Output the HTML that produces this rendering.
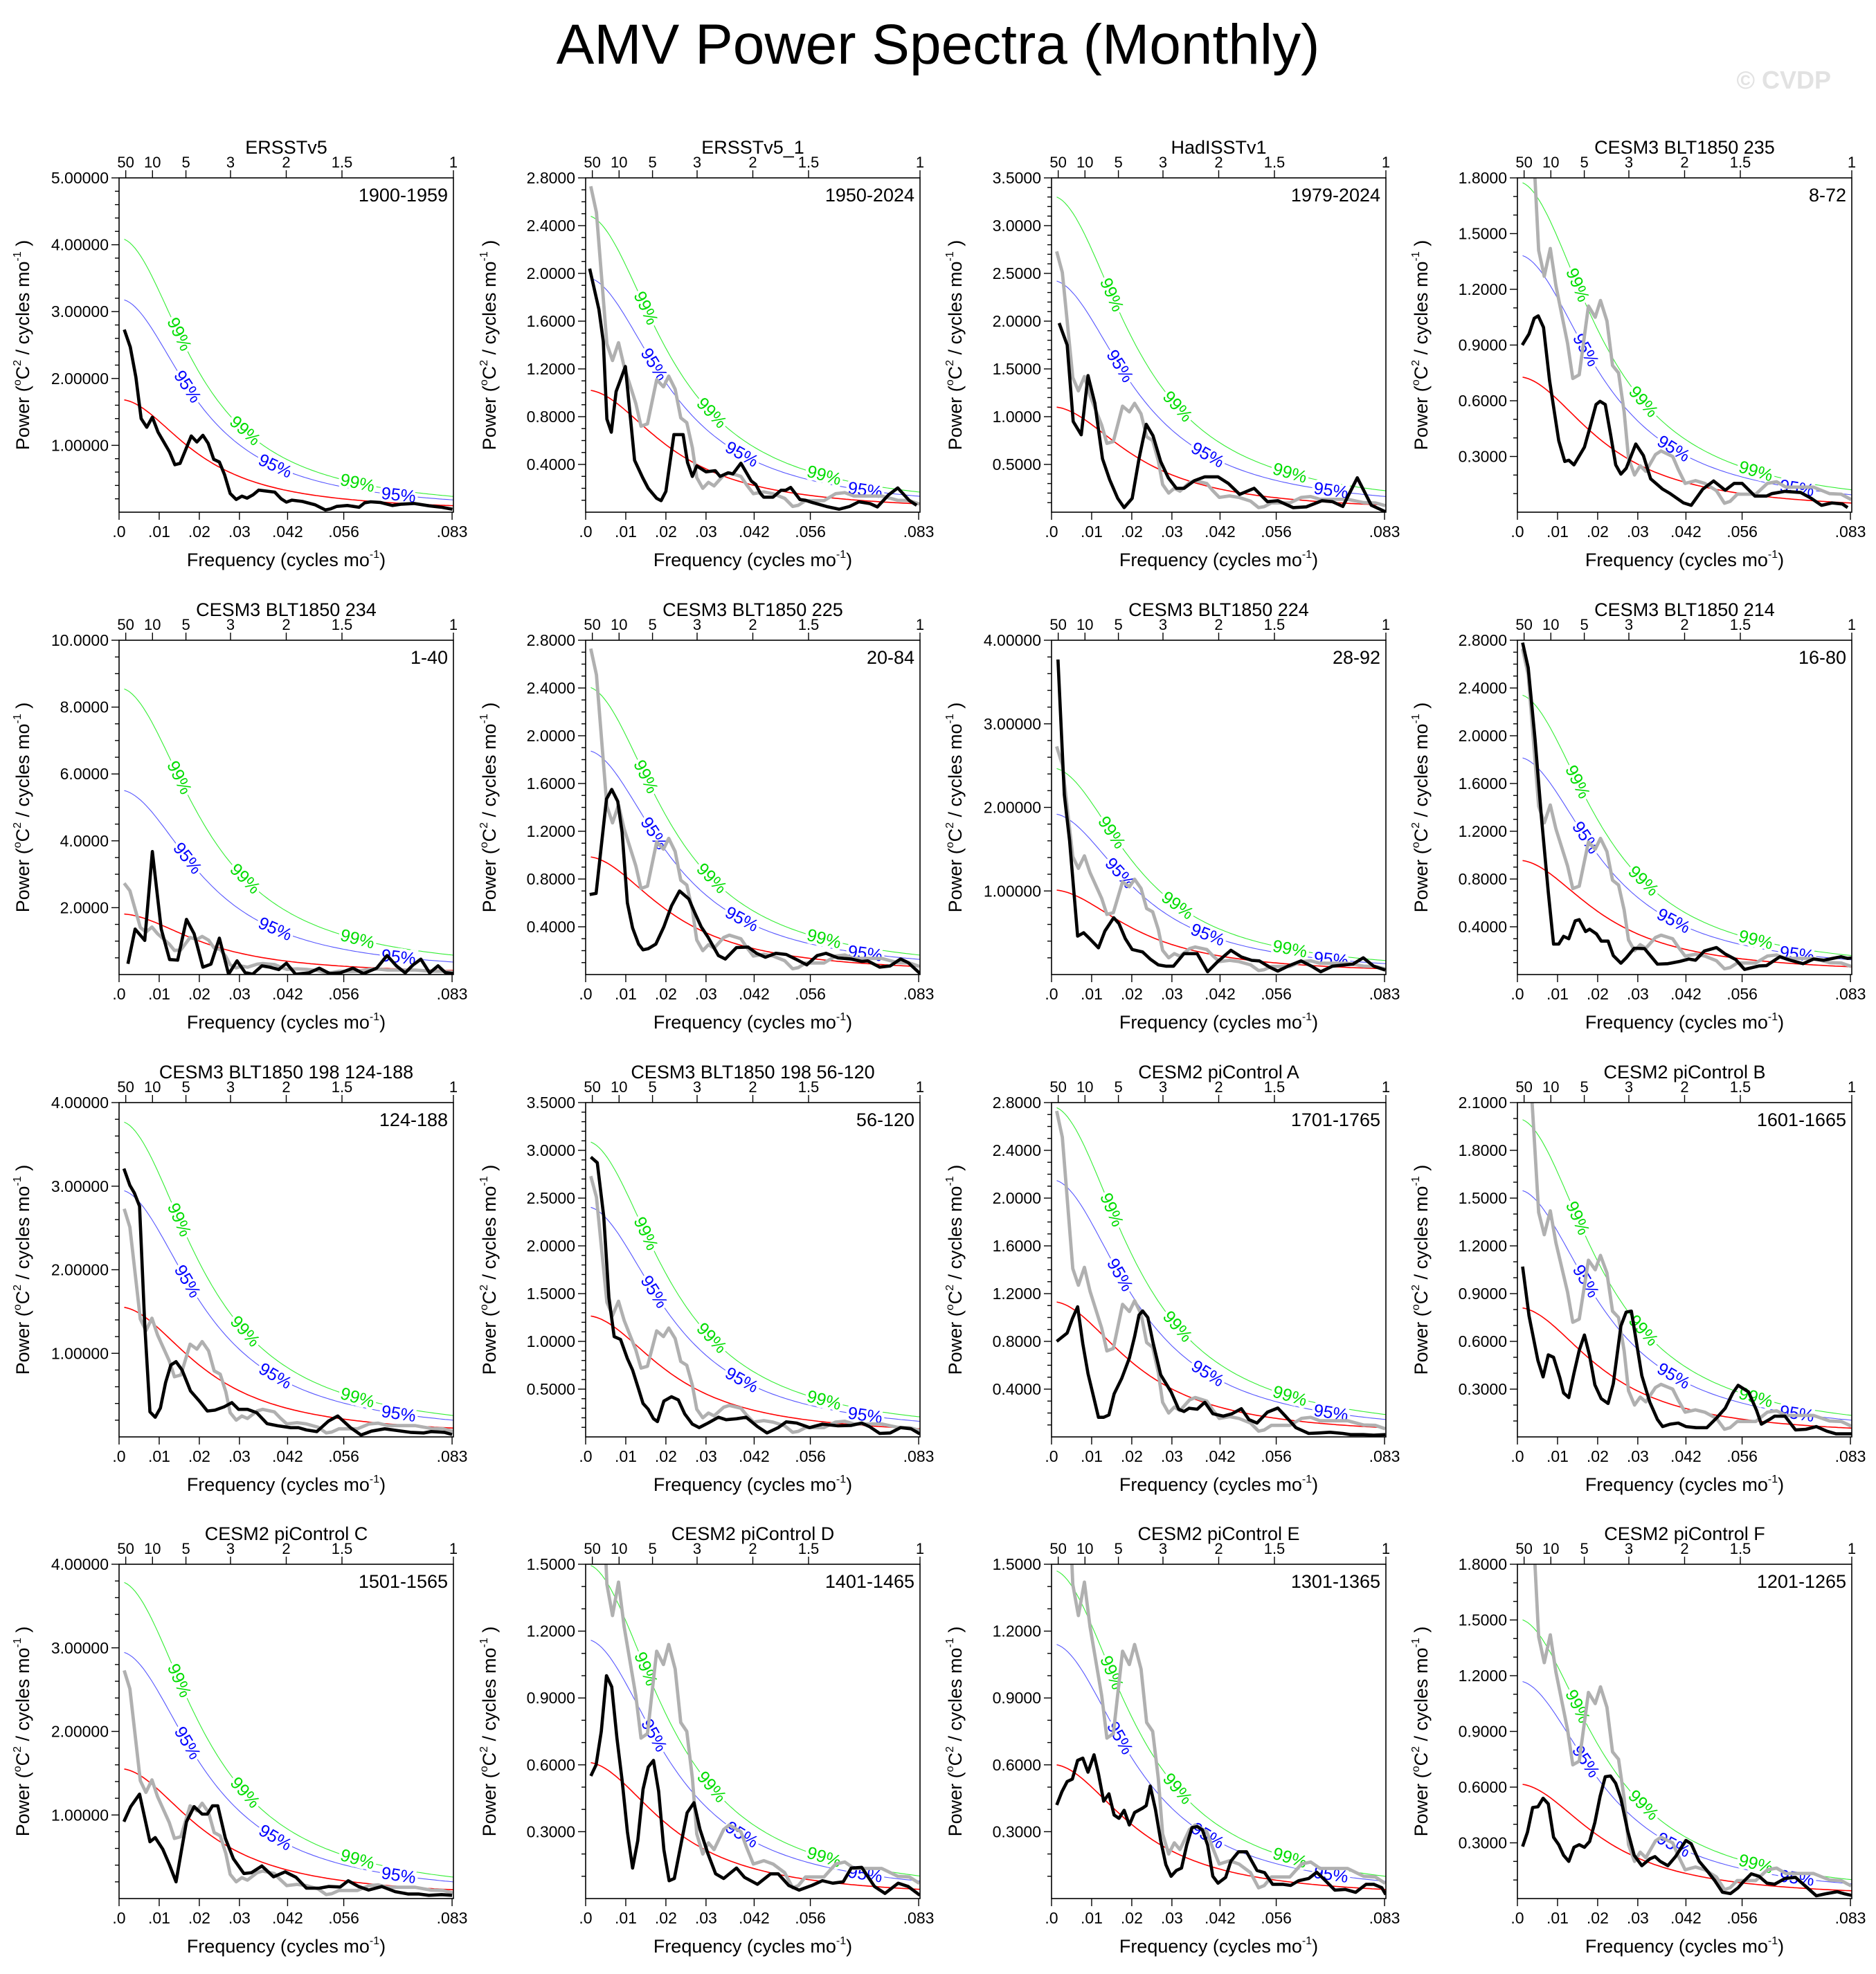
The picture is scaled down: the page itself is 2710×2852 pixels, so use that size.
<!DOCTYPE html>
<html>
<head>
<meta charset="utf-8">
<style>
html,body{margin:0;padding:0;background:#fff;}
svg{display:block;font-family:"Liberation Sans",sans-serif;}
</style>
</head>
<body>
<svg id="fig" width="2710" height="2852" viewBox="0 0 2710 2852" xmlns="http://www.w3.org/2000/svg">
<rect x="0" y="0" width="2710" height="2852" fill="#fff"/>
<text x="1355" y="92" text-anchor="middle" font-size="82" fill="#000">AMV Power Spectra (Monthly)</text>
<text x="2645" y="128" text-anchor="end" font-size="36" font-weight="bold" fill="#e2e2e2">© CVDP</text>
</svg>
<script>
// ---- chart data ----
const panelTitles = ["ERSSTv5","ERSSTv5_1","HadISSTv1","CESM3 BLT1850 235","CESM3 BLT1850 234","CESM3 BLT1850 225","CESM3 BLT1850 224","CESM3 BLT1850 214","CESM3 BLT1850 198 124-188","CESM3 BLT1850 198 56-120","CESM2 piControl A","CESM2 piControl B","CESM2 piControl C","CESM2 piControl D","CESM2 piControl E","CESM2 piControl F"];
const panelYears = ["1900-1959","1950-2024","1979-2024","8-72","1-40","20-84","28-92","16-80","124-188","56-120","1701-1765","1601-1665","1501-1565","1401-1465","1301-1365","1201-1265"];
const yMaxes = [5,2.8,3.5,1.8,10,2.8,4,2.8,4,3.5,2.8,2.1,4,1.5,1.5,1.8];
const ySteps = [1,0.4,0.5,0.3,2,0.4,1,0.4,1,0.5,0.4,0.3,1,0.3,0.3,0.3];
const yDecimals = [5,4,4,4,4,4,5,4,5,4,4,4,5,4,4,4];
const redStart = [1.68,1.02,1.10,0.727,1.81,0.985,1.01,0.955,1.55,1.265,1.13,0.81,1.55,0.61,0.60,0.615];
const redRho = [0.88,0.87,0.87,0.87,0.87,0.87,0.87,0.87,0.87,0.87,0.87,0.87,0.87,0.87,0.87,0.87];
const blueFactor = [1.89,1.92,2.2,1.9,3.04,1.9,1.9,1.9,1.9,1.9,1.9,1.91,1.9,1.9,1.9,1.9];
const greenFactor = [2.43,2.43,3.0,2.44,4.72,2.44,2.44,2.45,2.43,2.44,2.44,2.46,2.44,2.45,2.45,2.44];
const bottomTicks = [0,0.01,0.02,0.03,0.042,0.056,0.083];
const bottomTickLabels = [".0",".01",".02",".03",".042",".056",".083"];
const topPeriods = [50,10,5,3,2,1.5,1];
const topTickLabels = ["50","10","5","3","2","1.5","1"];

const graySpectrum = [[.00127,2.73],[.0027,2.51],[.0053,1.41],[.0067,1.27],[.0082,1.42],[.0096,1.22],[.0125,.91],[.0138,.72],[.0154,.74],[.0177,1.11],[.0194,1.05],[.0207,1.14],[.0223,1.03],[.0237,.79],[.0252,.75],[.0266,.54],[.0277,.29],[.0292,.20],[.0306,.25],[.0320,.22],[.0344,.31],[.0358,.33],[.0387,.30],[.0401,.23],[.0418,.155],[.0444,.17],[.0467,.155],[.0496,.116],[.0516,.048],[.0530,.058],[.0548,.097],[.0594,.097],[.0623,.155],[.0646,.164],[.0669,.135],[.0692,.135],[.0738,.135],[.0778,.10],[.0807,.097],[.0832,.068]];

const p1Black = [[.0013,2.73],[.0028,2.47],[.0042,2.02],[.0055,1.40],[.0069,1.27],[.0083,1.42],[.0097,1.20],[.0126,.90],[.0139,.71],[.0152,.73],[.0180,1.14],[.0194,1.05],[.0209,1.15],[.0222,1.03],[.0236,.79],[.0250,.75],[.0263,.56],[.0277,.28],[.0292,.19],[.0306,.24],[.0319,.21],[.0334,.26],[.0348,.33],[.0388,.30],[.0404,.20],[.0417,.15],[.0431,.18],[.0457,.16],[.0489,.11],[.0514,.034],[.0527,.05],[.0542,.086],[.0569,.10],[.0598,.073],[.0612,.14],[.0627,.155],[.0651,.146],[.0681,.10],[.0704,.12],[.0735,.13],[.0773,.095],[.0804,.073],[.0831,.043]];
const p2Black = [[.001,2.04],[.0033,1.70],[.0044,1.43],[.0053,.78],[.0064,.67],[.0076,1.01],[.0099,1.22],[.0122,.435],[.0142,.29],[.0156,.20],[.0177,.116],[.0188,.097],[.0200,.174],[.0220,.65],[.0243,.65],[.0254,.415],[.0266,.30],[.0277,.387],[.0300,.338],[.0323,.348],[.0335,.30],[.0355,.33],[.0367,.32],[.0387,.41],[.0413,.26],[.0424,.232],[.0436,.155],[.0444,.126],[.0467,.126],[.0487,.184],[.0499,.184],[.0511,.207],[.0534,.106],[.0548,.10],[.0565,.081],[.0600,.048],[.0632,.025],[.0658,.048],[.0681,.087],[.0709,.072],[.0727,.044],[.0755,.145],[.0778,.203],[.0807,.097],[.0825,.058]];
const p3Black = [[.0019,1.98],[.0039,1.75],[.0054,.95],[.0074,.81],[.0091,1.43],[.0108,1.14],[.0127,.56],[.0145,.34],[.0165,.145],[.0181,.048],[.0201,.145],[.0218,.56],[.0236,.92],[.0253,.80],[.0272,.53],[.0291,.36],[.0311,.25],[.0330,.25],[.0356,.33],[.0382,.37],[.0415,.37],[.0441,.30],[.0469,.186],[.0505,.25],[.0538,.11],[.0564,.12],[.0602,.048],[.0635,.056],[.0674,.12],[.0700,.11],[.0726,.06],[.0762,.36],[.0797,.073],[.0832,.005]];
const p4Black = [[.0012,.90],[.0029,.96],[.0042,1.044],[.0052,1.057],[.0065,.995],[.0080,.71],[.0103,.385],[.0118,.273],[.0128,.28],[.0141,.255],[.0167,.35],[.0180,.45],[.0196,.58],[.0206,.597],[.0219,.58],[.0232,.42],[.0245,.255],[.0258,.205],[.0271,.236],[.0295,.367],[.0314,.305],[.0332,.18],[.0362,.124],[.0381,.10],[.0414,.05],[.0433,.037],[.0462,.124],[.0489,.168],[.0518,.118],[.0540,.155],[.0560,.155],[.0592,.087],[.0621,.087],[.0634,.10],[.0667,.112],[.0706,.106],[.0732,.075],[.0758,.037],[.0784,.05],[.0810,.044],[.0823,.025]];
const p5Black = [[.0022,.32],[.0040,1.36],[.0064,1.02],[.0083,3.68],[.0105,1.36],[.0126,.45],[.0146,.43],[.0168,1.65],[.0187,1.22],[.0209,.22],[.0229,.31],[.0250,1.09],[.0273,.01],[.0294,.41],[.0314,.06],[.0333,.01],[.0356,.26],[.0376,.22],[.0398,.15],[.0417,.34],[.0440,.01],[.0473,.05],[.0499,.19],[.0525,.03],[.0551,.05],[.0583,.19],[.0609,.03],[.0642,.19],[.0668,.57],[.0691,.26],[.0713,.05],[.0733,.29],[.0752,.46],[.0774,.05],[.0795,.26],[.0813,.06],[.0833,.03]];
const p6Black = [[.0010,.67],[.0026,.68],[.0052,1.47],[.0065,1.55],[.0080,1.45],[.0091,1.19],[.0104,.60],[.0117,.39],[.0132,.255],[.0143,.207],[.0156,.217],[.0175,.255],[.0195,.40],[.0214,.575],[.0234,.70],[.0257,.633],[.0272,.517],[.0288,.40],[.0305,.313],[.0331,.159],[.0348,.13],[.0376,.226],[.0405,.23],[.0426,.178],[.0448,.145],[.0474,.178],[.0500,.168],[.0529,.12],[.0551,.081],[.0577,.159],[.0599,.178],[.0629,.139],[.0662,.13],[.0688,.11],[.0703,.114],[.0733,.062],[.0759,.072],[.0785,.13],[.0804,.10],[.0833,.01]];
const p7Black = [[.0016,3.77],[.0032,2.15],[.0045,1.60],[.0065,.46],[.0080,.50],[.0097,.42],[.0117,.32],[.0133,.52],[.0155,.68],[.0168,.61],[.0184,.43],[.0201,.30],[.0227,.27],[.0246,.185],[.0266,.116],[.0285,.10],[.0304,.10],[.0330,.25],[.0363,.25],[.0389,.033],[.0415,.158],[.0447,.29],[.0473,.21],[.0499,.17],[.0518,.163],[.0544,.088],[.0564,.041],[.0589,.10],[.0622,.163],[.0648,.10],[.0671,.033],[.0700,.10],[.0732,.116],[.0751,.124],[.0777,.20],[.0803,.10],[.0832,.053]];
const p8Black = [[.0013,2.78],[.0027,2.57],[.0044,1.97],[.0060,1.31],[.0077,.69],[.0090,.255],[.0103,.255],[.0115,.32],[.0128,.30],[.0144,.45],[.0154,.46],[.0170,.36],[.0180,.38],[.0197,.34],[.0209,.28],[.0226,.28],[.0239,.159],[.0258,.095],[.0271,.139],[.0291,.22],[.0317,.217],[.0349,.087],[.0375,.091],[.0405,.11],[.0427,.13],[.0444,.12],[.0466,.197],[.0496,.226],[.0518,.172],[.0544,.126],[.0566,.043],[.0602,.072],[.0621,.075],[.0654,.149],[.0680,.12],[.0712,.091],[.0738,.13],[.0764,.12],[.0784,.134],[.0807,.149],[.0823,.135],[.0833,.139]];
const p9Black = [[.0012,3.21],[.0027,3.01],[.0038,2.92],[.0051,2.76],[.0064,1.34],[.0077,.30],[.0090,.235],[.0103,.345],[.0116,.65],[.0129,.86],[.0142,.90],[.0157,.80],[.0178,.55],[.0200,.43],[.0220,.31],[.0239,.32],[.0262,.36],[.0281,.41],[.0298,.33],[.0320,.33],[.0343,.29],[.0369,.158],[.0395,.133],[.0428,.11],[.0447,.11],[.0467,.083],[.0493,.064],[.0522,.19],[.0545,.25],[.0577,.11],[.0603,.022],[.0629,.069],[.0662,.097],[.0694,.075],[.0726,.055],[.0759,.047],[.0778,.064],[.0811,.055],[.0830,.028]];
const p10Black = [[.0013,2.93],[.0029,2.87],[.0045,2.31],[.0058,1.46],[.0071,1.05],[.0087,1.02],[.0104,.82],[.0117,.70],[.0132,.50],[.0143,.35],[.0156,.29],[.0169,.19],[.0179,.16],[.0195,.375],[.0214,.42],[.0231,.387],[.0247,.24],[.0266,.133],[.0283,.097],[.0305,.145],[.0331,.206],[.0350,.18],[.0376,.19],[.0400,.206],[.0428,.109],[.0452,.041],[.0480,.097],[.0500,.157],[.0526,.145],[.0558,.097],[.0590,.133],[.0629,.116],[.0662,.12],[.0688,.145],[.0707,.109],[.0733,.036],[.0759,.041],[.0785,.097],[.0811,.085],[.0833,.031]];
const p11Black = [[.0013,.80],[.0039,.87],[.0052,.99],[.0065,1.09],[.0078,.78],[.0091,.53],[.0106,.32],[.0117,.164],[.0130,.164],[.0143,.184],[.0156,.36],[.0175,.49],[.0194,.66],[.0207,.84],[.0218,1.02],[.0227,1.055],[.0240,1.0],[.0253,.79],[.0272,.52],[.0298,.377],[.0317,.232],[.0330,.213],[.0343,.24],[.0363,.232],[.0382,.29],[.0402,.194],[.0428,.174],[.0450,.194],[.0473,.236],[.0492,.145],[.0512,.116],[.0538,.207],[.0564,.242],[.0583,.174],[.0609,.077],[.0641,.029],[.0667,.033],[.0694,.039],[.0726,.029],[.0745,.019],[.0777,.019],[.0803,.014],[.0832,.019]];
const p12Black = [[.0013,1.07],[.0029,.76],[.0051,.48],[.0064,.377],[.0077,.515],[.0090,.50],[.0106,.37],[.0115,.276],[.0128,.247],[.0141,.40],[.0154,.544],[.0167,.64],[.0180,.51],[.0193,.327],[.0209,.24],[.0226,.21],[.0239,.334],[.0258,.697],[.0271,.784],[.0284,.79],[.0297,.59],[.0310,.385],[.0330,.218],[.0349,.109],[.0362,.065],[.0381,.08],[.0401,.087],[.0420,.065],[.0446,.058],[.0472,.058],[.0498,.123],[.0518,.18],[.0537,.276],[.0550,.324],[.0576,.283],[.0596,.167],[.0608,.08],[.0628,.109],[.0641,.13],[.0667,.13],[.0693,.044],[.0719,.048],[.0745,.065],[.0771,.036],[.0794,.019],[.0833,.019]];
const p13Black = [[.0012,.92],[.0029,1.10],[.0051,1.25],[.0077,.68],[.0090,.73],[.0109,.59],[.0125,.41],[.0142,.20],[.0155,.56],[.0168,.92],[.0187,1.10],[.0207,1.01],[.0220,1.01],[.0233,1.11],[.0246,1.11],[.0265,.72],[.0285,.475],[.0311,.30],[.0330,.31],[.0356,.39],[.0385,.26],[.0414,.32],[.0441,.254],[.0467,.124],[.0499,.124],[.0522,.144],[.0551,.138],[.0571,.213],[.0597,.144],[.0622,.102],[.0655,.144],[.0688,.083],[.0720,.055],[.0746,.055],[.0772,.039],[.0804,.047],[.0830,.039]];
const p14Black = [[.0013,.55],[.0026,.60],[.0039,.75],[.0052,1.00],[.0065,.95],[.0078,.72],[.0091,.53],[.0104,.30],[.0117,.137],[.0130,.26],[.0143,.49],[.0156,.59],[.0169,.62],[.0182,.48],[.0195,.22],[.0208,.08],[.0221,.09],[.0234,.21],[.0253,.385],[.0270,.43],[.0285,.31],[.0305,.20],[.0324,.111],[.0344,.09],[.0376,.137],[.0396,.095],[.0428,.064],[.0461,.111],[.0480,.111],[.0506,.059],[.0532,.038],[.0564,.059],[.0590,.08],[.0616,.069],[.0642,.075],[.0662,.137],[.0688,.14],[.0720,.054],[.0746,.023],[.0779,.069],[.0804,.054],[.0833,.015]];
const p15Black = [[.0013,.42],[.0026,.48],[.0039,.525],[.0052,.536],[.0065,.62],[.0078,.63],[.0091,.567],[.0106,.645],[.0117,.56],[.0130,.437],[.0143,.47],[.0156,.375],[.0168,.36],[.0181,.396],[.0194,.33],[.0207,.386],[.0227,.406],[.0236,.417],[.0246,.505],[.0259,.40],[.0272,.26],[.0285,.152],[.0298,.10],[.0311,.126],[.0324,.137],[.0337,.24],[.0350,.318],[.0363,.323],[.0376,.308],[.0389,.24],[.0402,.10],[.0415,.069],[.0434,.095],[.0447,.168],[.0466,.21],[.0486,.21],[.0499,.168],[.0512,.126],[.0531,.116],[.0551,.064],[.0576,.064],[.0596,.059],[.0616,.08],[.0641,.09],[.0661,.118],[.0680,.085],[.0706,.038],[.0732,.041],[.0758,.028],[.0784,.064],[.0803,.064],[.0823,.049],[.0833,.018]];
const p16Black = [[.0013,.28],[.0025,.357],[.0038,.49],[.0051,.494],[.0064,.54],[.0077,.51],[.0090,.33],[.0103,.29],[.0115,.233],[.0128,.20],[.0141,.276],[.0154,.29],[.0167,.276],[.0180,.307],[.0193,.41],[.0206,.55],[.0219,.656],[.0232,.66],[.0245,.62],[.0258,.537],[.0275,.363],[.0291,.233],[.0310,.177],[.0330,.214],[.0343,.226],[.0356,.20],[.0375,.177],[.0394,.226],[.0420,.313],[.0433,.295],[.0453,.20],[.0472,.152],[.0492,.096],[.0511,.034],[.0531,.027],[.0550,.058],[.0563,.09],[.0583,.133],[.0602,.12],[.0622,.083],[.0641,.077],[.0667,.108],[.0693,.114],[.0719,.065],[.0745,.015],[.0771,.027],[.0797,.037],[.0816,.025],[.0833,.017]];
const blackSeries = [p1Black,p2Black,p3Black,p4Black,p5Black,p6Black,p7Black,p8Black,p9Black,p10Black,p11Black,p12Black,p13Black,p14Black,p15Black,p16Black];

// ---- layout ----
const NS = "http://www.w3.org/2000/svg";
const svg = document.getElementById("fig");
const colLefts = [172,846,1519,2192];
const rowTops = [257,925,1593,2260];
const PW = 483, PH = 483, FMAX = 1/12, F0 = 0.0013;

function mk(tag, attrs, parent){
  const el = document.createElementNS(NS, tag);
  for (const k in attrs) el.setAttribute(k, attrs[k]);
  (parent||svg).appendChild(el);
  return el;
}
function redAt(f, rho){ return 1/(1+rho*rho-2*rho*Math.cos(2*Math.PI*f)); }

for (let i=0;i<16;i++){
  const L = colLefts[i%4], T = rowTops[Math.floor(i/4)], R = L+PW, B = T+PH;
  const ymax = yMaxes[i];
  const xs = f => L + f/FMAX*PW;
  const ys = v => B - v/ymax*PH;

  const g = mk("g", {});
  
  

  const clip = mk("clipPath", {id:"clip"+i}, g);
  mk("rect", {x:L, y:T, width:PW, height:PH}, clip);

  const ttl = mk("text", {x:L+PW/2, y:T-35, "text-anchor":"middle", "font-size":27}, g);
  ttl.textContent = panelTitles[i];
  
  

  const yr = mk("text", {x:R-8, y:T+34, "text-anchor":"end", "font-size":27}, g);
  yr.textContent = panelYears[i];
  
  

  const cg = mk("g", {"clip-path":"url(#clip"+i+")"}, g);
  const base = redAt(F0, redRho[i]);
  const N = 120;
  const redPts=[], bluePts=[], greenPts=[];
  for (let k=0;k<=N;k++){
    const f = F0 + (FMAX-F0)*k/N;
    const r = redStart[i]*redAt(f, redRho[i])/base;
    redPts.push([xs(f), ys(r)]);
    bluePts.push([xs(f), ys(r*blueFactor[i])]);
    greenPts.push([xs(f), ys(r*greenFactor[i])]);
  }
  const toD = pts => pts.map((p,j)=>(j?"L":"M")+p[0].toFixed(1)+","+p[1].toFixed(1)).join("");

  const greenLine = mk("path", {d:toD(greenPts), fill:"none", stroke:"#33ee33", "stroke-width":1.1}, cg);
  
  
  const blueLine = mk("path", {d:toD(bluePts), fill:"none", stroke:"#5555ff", "stroke-width":1.1}, cg);
  
  

  const labelFr = [[0.165,0.37,0.71],[0.195,0.46,0.83]];
  [[greenPts,"99%","#00dd00"],[bluePts,"95%","#0000ff"]].forEach((c,ci)=>{
    labelFr[ci].forEach(fr=>{
      const k = Math.round(fr*N);
      const p = c[0][k], p1 = c[0][Math.max(0,k-2)], p2 = c[0][Math.min(N,k+2)];
      const ang = Math.atan2(p2[1]-p1[1], p2[0]-p1[0])*180/Math.PI;
      const t = mk("text", {x:p[0], y:p[1]+8, "text-anchor":"middle", "font-size":25, fill:c[2],
        stroke:"#fff", "stroke-width":8, "paint-order":"stroke",
        transform:"rotate("+ang.toFixed(1)+" "+p[0].toFixed(1)+" "+p[1].toFixed(1)+")"}, cg);
      t.textContent = c[1];
      
      
    });
  });

  const redLine = mk("path", {d:toD(redPts), fill:"none", stroke:"#ff0000", "stroke-width":1.6}, cg);
  
  

  if (i>0){
    const gy = mk("path", {d:toD(graySpectrum.map(p=>[xs(p[0]),ys(p[1])])), fill:"none", stroke:"#b0b0b0", "stroke-width":4.8, "stroke-linejoin":"round"}, cg);
    
    
  }
  const bl = mk("path", {d:toD(blackSeries[i].map(p=>[xs(p[0]),ys(p[1])])), fill:"none", stroke:"#000", "stroke-width":4.6, "stroke-linejoin":"round"}, cg);
  
  

  const fr = mk("rect", {x:L, y:T, width:PW, height:PH, fill:"none", stroke:"#000", "stroke-width":1.6}, g);
  
  

  const step = ySteps[i];
  const minor = step===1?0.2:(step===2?0.5:0.1);
  const nMin = Math.round(ymax/minor);
  for (let k=1;k<=nMin;k++){
    const v = k*minor; const y = ys(v);
    const isMajor = Math.abs(v/step - Math.round(v/step))<1e-6;
    mk("line", {x1:L, x2:L-(isMajor?11:6), y1:y, y2:y, stroke:"#000", "stroke-width":1.4}, g);
    if (isMajor){
      const tl = mk("text", {x:L-15, y:y+8, "text-anchor":"end", "font-size":23}, g);
      tl.textContent = v.toFixed(yDecimals[i]);
      
      
    }
  }
  bottomTicks.forEach((f,k)=>{
    const x = xs(f);
    mk("line", {x1:x, x2:x, y1:B, y2:B+11, stroke:"#000", "stroke-width":1.4}, g);
    const tl = mk("text", {x:x, y:B+36, "text-anchor":"middle", "font-size":23}, g);
    tl.textContent = bottomTickLabels[k];
    
    
  });
  topPeriods.forEach((p,k)=>{
    const x = xs(1/(12*p));
    mk("line", {x1:x, x2:x, y1:T, y2:T-11, stroke:"#000", "stroke-width":1.4}, g);
    const tl = mk("text", {x:x, y:T-15, "text-anchor":"middle", "font-size":22}, g);
    tl.textContent = topTickLabels[k];
    
    
  });
  const xt = mk("text", {x:L+PW/2, y:B+78, "text-anchor":"middle", "font-size":27}, g);
  xt.innerHTML = 'Frequency (cycles mo<tspan font-size="16" dy="-12">-1</tspan><tspan dy="12">)</tspan>';
  
  
  const cx = L-130, cy = T+PH/2;
  const yt = mk("text", {x:cx, y:cy, "text-anchor":"middle", "font-size":27, transform:"rotate(-90 "+cx+" "+cy+")"}, g);
  yt.innerHTML = 'Power (<tspan font-size="16" dy="-12">o</tspan><tspan dy="12">C</tspan><tspan font-size="16" dy="-12">2</tspan><tspan dy="12"> / cycles mo</tspan><tspan font-size="16" dy="-12">-1</tspan><tspan dy="12"> )</tspan>';
  
  
}
</script>
</body>
</html>
